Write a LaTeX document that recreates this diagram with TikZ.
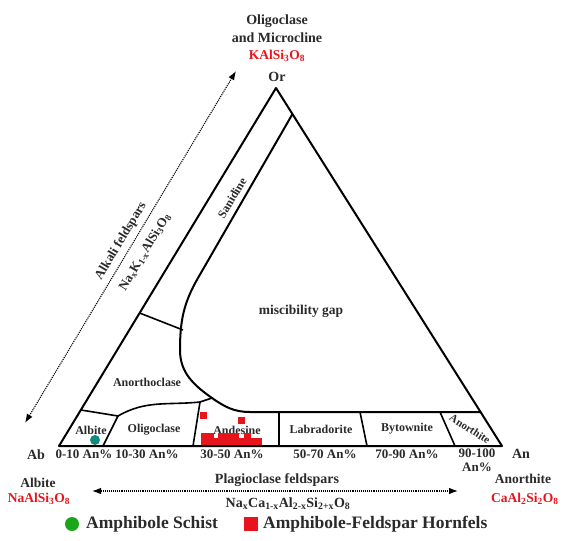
\documentclass[tikz,border=0pt]{standalone}
\usepackage{fontspec}
\setmainfont{Liberation Serif}
\usetikzlibrary{arrows.meta}
\definecolor{txt}{HTML}{2A2A2A}
\definecolor{redc}{HTML}{E8141C}
\definecolor{tealc}{HTML}{128A80}
\definecolor{greenc}{HTML}{1AA51A}
\newcommand{\fs}[1]{\fontsize{#1}{#1}\selectfont\bfseries}
\begin{document}
\begin{tikzpicture}[x=1pt,y=-1pt,
  edge/.style={line width=2pt,line join=round},
  thin/.style={line width=1.6pt},
  lbl/.style={text=txt,font=\fs{12},inner sep=0pt},
  rlbl/.style={text=redc,font=\fs{13.5},inner sep=0pt},
  darrow/.style={densely dotted,line width=1.1pt,{Latex[length=9pt,width=6.5pt]}-{Latex[length=9pt,width=6.5pt]}},
  sq/.style={fill=redc,draw=none,minimum size=7pt,inner sep=0pt}]
\useasboundingbox[fill=white] (0,0) rectangle (572,540);

% main triangle
\coordinate (Ab) at (59,446);
\coordinate (An) at (502,446);
\coordinate (Or) at (276,88);
\draw[edge] (Ab) -- (An) -- (Or) -- cycle;

% miscibility gap boundary
\coordinate (m0) at (292.5,114);
\coordinate (m1) at (198,278);
\coordinate (m2) at (180,350);
\coordinate (m3) at (212,398);
\coordinate (m4) at (250,412);
\coordinate (m5) at (480.5,412);
\draw[edge] (m0) -- (m1) to[out=240,in=90] (m2) to[out=270,in=145] (m3) to[out=325,in=180] (m4) -- (m5);

% sanidine / anorthoclase divider
\coordinate (s0) at (139.6,313);
\coordinate (s1) at (183,330);
\draw[thin] (s0) -- (s1);

% plagioclase band top (left part)
\coordinate (a0) at (81,410);
\coordinate (a1) at (118,416);
\coordinate (a2) at (103,446);
\coordinate (o1) at (200,402);
\draw[thin] (a0) -- (a1) -- (a2);
\draw[thin] (a1) to[out=30,in=186] (o1) -- (m3);

% dividers
\coordinate (d1t) at (200,402); \coordinate (d1b) at (193,446);
\coordinate (d2t) at (279,412); \coordinate (d2b) at (279,446);
\coordinate (d3t) at (360,412); \coordinate (d3b) at (367,446);
\coordinate (d4t) at (440,412); \coordinate (d4b) at (455,446);
\draw[thin] (d1t) -- (d1b);
\draw[thin] (d2t) -- (d2b);
\draw[thin] (d3t) -- (d3b);
\draw[thin] (d4t) -- (d4b);

% field labels
\node[lbl] (lalb) at (91,430) {Albite};
\node[lbl] (lolig) at (154,430) {Oligoclase};
\node[lbl] (land) at (237,430) {Andesine};
\node[lbl] (llab) at (321,429) {Labradorite};
\node[lbl] (lbyt) at (407,429) {Bytownite};
\node[lbl,rotate=-33,font=\fs{11}] (lanor) at (470,429) {Anorthite};
\node[lbl] (lanoc) at (147,382) {Anorthoclase};
\node[lbl,rotate=59] (lsan) at (232,198) {Sanidine};
\node[lbl,font=\fs{13.5}] (lmis) at (301,311) {miscibility gap};

% An% labels
\node[lbl,font=\fs{13}] (p1) at (84,454) {0-10 An\%};
\node[lbl,font=\fs{13}] (p2) at (147,454) {10-30 An\%};
\node[lbl,font=\fs{13}] (p3) at (232,454) {30-50 An\%};
\node[lbl,font=\fs{13}] (p4) at (325,454) {50-70 An\%};
\node[lbl,font=\fs{13}] (p5) at (407,454) {70-90 An\%};
\node[lbl,font=\fs{13},align=center] (p6) at (477,460) {90-100\\[1pt]An\%};

% vertex labels
\node[lbl,font=\fs{14}] (vab) at (36,455) {Ab};
\node[lbl,font=\fs{14}] (van) at (521,454) {An};
\node[lbl,font=\fs{14}] (vor) at (277,77) {Or};
\node[lbl,font=\fs{14}] (top1) at (277,21) {Oligoclase};
\node[lbl,font=\fs{14}] (top2) at (277,38) {and Microcline};
\node[rlbl] (top3) at (277,56) {KAlSi\textsubscript{3}O\textsubscript{8}};
\node[lbl,font=\fs{13.5}] (bl1) at (38,483) {Albite};
\node[rlbl] (bl2) at (39,499) {NaAlSi\textsubscript{3}O\textsubscript{8}};
\node[lbl,font=\fs{13.5}] (br1) at (523,479) {Anorthite};
\node[rlbl,anchor=west] (br2) at (491,499) {CaAl\textsubscript{2}Si\textsubscript{2}O\textsubscript{8}};

% alkali feldspar arrow
\coordinate (ak0) at (25,423);
\coordinate (ak1) at (236,71);
\draw[darrow] (ak0) -- (ak1);
\node[lbl,rotate=59,font=\fs{13}] (lak) at (121,241) {Alkali feldspars};
\node[lbl,rotate=59,font=\fs{13}] (lakf) at (145,252) {Na\textsubscript{x}K\textsubscript{1-x}AlSi\textsubscript{3}O\textsubscript{8}};

% plagioclase arrow
\coordinate (pl0) at (92,491);
\coordinate (pl1) at (458,491);
\draw[darrow] (pl0) -- (pl1);
\node[lbl,font=\fs{14}] (lpl) at (277,480) {Plagioclase feldspars};
\node[lbl,font=\fs{14}] (lplf) at (288,504) {Na\textsubscript{x}Ca\textsubscript{1-x}Al\textsubscript{2-x}Si\textsubscript{2+x}O\textsubscript{8}};

% data
\fill[tealc] (95,440) circle (5pt);
\foreach \x/\y in {203/415, 241/420,
  204/436, 210/436, 221/436, 228/436, 235/436, 247/436,
  204/441, 211/441, 218/441, 225/441, 232/441, 239/441, 246/441, 253/441, 258/441}
  \node[sq] at (\x,\y) {};

% legend
\fill[greenc] (72,524) circle (7pt);
\node[lbl,anchor=west,font=\fs{17.5}] (leg1) at (86,524) {Amphibole Schist};
\node[sq,minimum size=14pt] (legsq) at (251,524) {};
\node[lbl,anchor=west,font=\fs{17.5}] (leg2) at (263,524) {Amphibole-Feldspar Hornfels};
\end{tikzpicture}
\end{document}
